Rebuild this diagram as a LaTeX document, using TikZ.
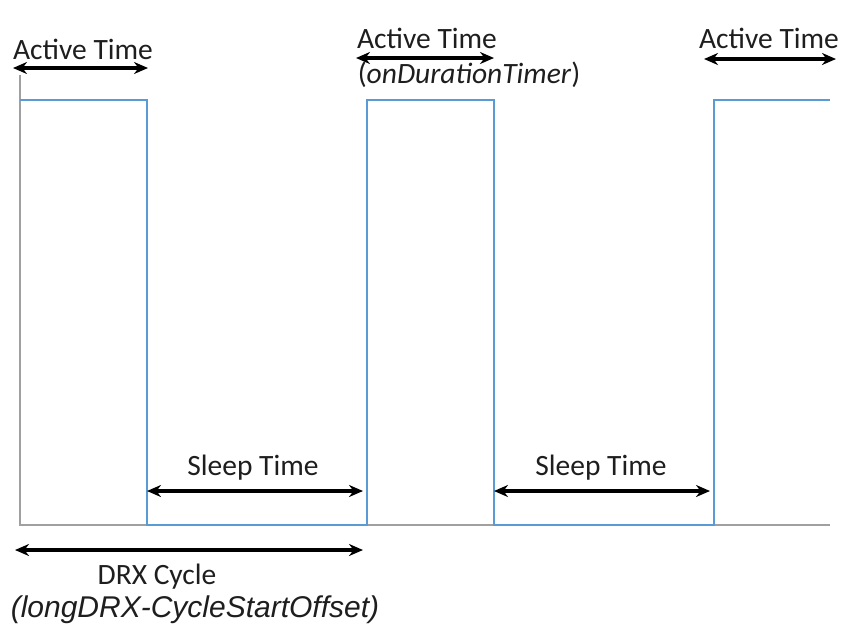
\documentclass[tikz,border=0pt]{standalone}
\usepackage{fontspec}
\setmainfont{Carlito}
\newfontfamily\arialfont{Liberation Sans}
\usetikzlibrary{arrows.meta}
\definecolor{wave}{RGB}{91,155,213}
\definecolor{axisgray}{RGB}{160,160,160}
\definecolor{txt}{RGB}{30,30,30}
\tikzset{
  lbl/.style={inner sep=0pt, text=txt, font=\fontsize{29.5}{32}\selectfont},
  dim/.style={line width=3.5pt, {Stealth[length=14pt,width=12pt]}-{Stealth[length=14pt,width=12pt]}},
  sig/.style={draw=wave, line width=2pt},
  ax/.style={draw=axisgray, line width=2pt}
}
\begin{document}
\begin{tikzpicture}[x=1pt,y=-1pt]
\useasboundingbox (0,0) rectangle (843,625);
% axes
\coordinate (o) at (20,525);
\coordinate (ytop) at (20,75);
\coordinate (xend) at (830,525);
\draw[ax] (ytop) -- (o) -- (xend);
% waveform
\draw[sig] (20,100) -- (147,100) -- (147,525) -- (367,525) -- (367,100) -- (494,100) -- (494,525) -- (714,525) -- (714,100) -- (830,100);
% active time 1
\node[lbl] (at1) at (83,49) {Active Time};
\coordinate (a1l) at (13,68);
\coordinate (a1r) at (148,68);
\draw[dim] (a1l) -- (a1r);
% active time 2
\node[lbl] (at2) at (427,38) {Active Time};
\node[lbl] (odt) at (469,75) {(\textit{onDurationTimer})};
\coordinate (a2l) at (356,58);
\coordinate (a2r) at (494,58);
\draw[dim] (a2l) -- (a2r);
% active time 3
\node[lbl] (at3) at (769,38) {Active Time};
\coordinate (a3l) at (704,59);
\coordinate (a3r) at (836,59);
\draw[dim] (a3l) -- (a3r);
% sleep 1
\node[lbl] (st1) at (253,468) {Sleep Time};
\coordinate (s1l) at (147,491);
\coordinate (s1r) at (363,491);
\draw[dim] (s1l) -- (s1r);
% sleep 2
\node[lbl] (st2) at (601,468) {Sleep Time};
\coordinate (s2l) at (494,491);
\coordinate (s2r) at (710,491);
\draw[dim] (s2l) -- (s2r);
% drx cycle
\coordinate (dl) at (15,550);
\coordinate (dr) at (363,550);
\draw[dim] (dl) -- (dr);
\node[lbl] (drx) at (157,577) {DRX Cycle};
\node[lbl, font=\arialfont\itshape\fontsize{30}{32}\selectfont] (ldrx) at (195,610) {(longDRX-CycleStartOffset)};
\end{tikzpicture}
\end{document}
